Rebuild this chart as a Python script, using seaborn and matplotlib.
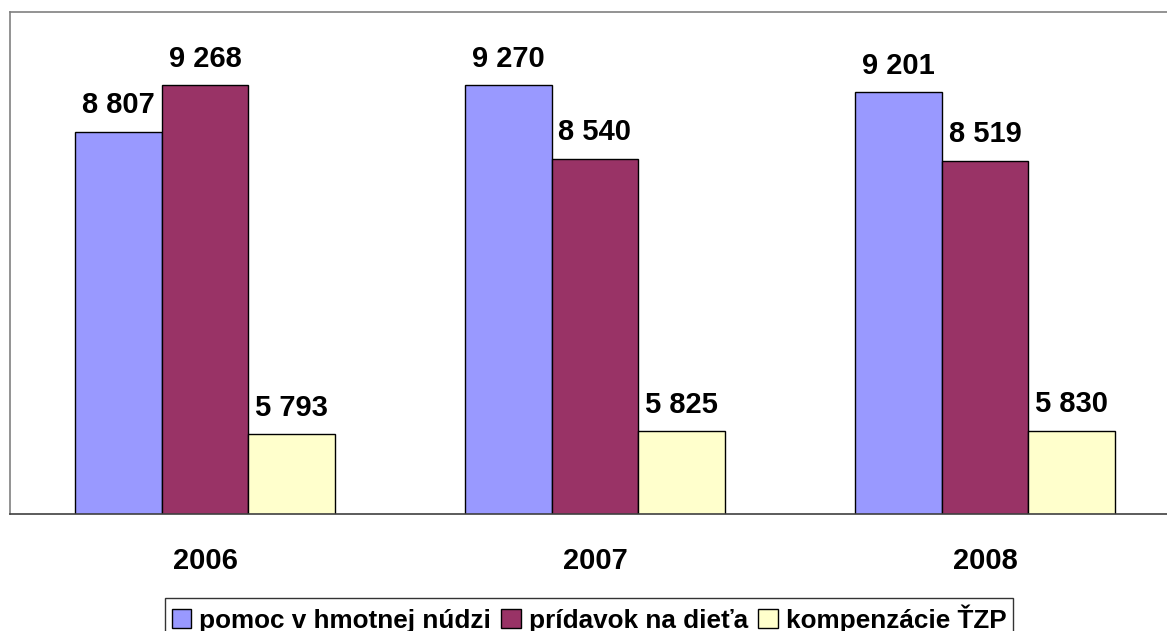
import matplotlib
matplotlib.use('Agg')
import matplotlib.pyplot as plt
import pandas as pd
import seaborn as sns

# Data
years = ['2006', '2007', '2008']
series = ['pomoc v hmotnej núdzi', 'prídavok na dieťa', 'kompenzácie ŤZP']
hmotna_nudza = [8807, 9270, 9201]
pridavok = [9268, 8540, 8519]
kompenzacie = [5793, 5825, 5830]
colors = ['#9999FF', '#993366', '#FFFFCC']

df = pd.DataFrame({
    'year': years * 3,
    'series': [series[0]] * 3 + [series[1]] * 3 + [series[2]] * 3,
    'value': hmotna_nudza + pridavok + kompenzacie,
})

sns.set_style('white')
plt.rcParams['font.family'] = ['Liberation Sans', 'DejaVu Sans']
plt.rcParams['font.weight'] = 'bold'
plt.rcParams['text.color'] = 'black'
plt.rcParams['xtick.color'] = 'black'

W, H = 1167, 631
fig = plt.figure(figsize=(W / 100, H / 100), dpi=100)
ax = fig.add_axes([10 / W, (H - 514) / H, 1170 / W, 502 / H])

sns.barplot(data=df, x='year', y='value', hue='series', order=years,
            hue_order=series, palette=colors, width=0.667,
            edgecolor='black', linewidth=1, saturation=1, ax=ax, legend=True)

ax.set_ylim(5000, 10000)
ax.set_xlim(-0.5, 2.5)
ax.set(xlabel='', ylabel='')
ax.set_yticks([])
ax.tick_params(axis='x', length=0, pad=24, labelsize=21, labelcolor='black')
for lab in ax.get_xticklabels():
    lab.set_fontweight('bold')

for sp in ['left', 'top', 'bottom']:
    ax.spines[sp].set_color('#808080')
    ax.spines[sp].set_linewidth(1.2)
ax.spines['bottom'].set_color('#404040')
ax.spines['right'].set_visible(False)

# Value labels with space as thousands separator
for cont, vals in zip(ax.containers, [hmotna_nudza, pridavok, kompenzacie]):
    labels = ['{:,}'.format(v).replace(',', ' ') for v in vals]
    ax.bar_label(cont, labels=labels, padding=9, fontsize=21, fontweight='bold',
                 color='black')

# Legend
ax.get_legend().remove()
handles = [plt.Rectangle((0, 0), 1, 1, facecolor=c, edgecolor='black', linewidth=1)
           for c in colors]
leg = fig.legend(handles, series, loc='upper left',
                 bbox_to_anchor=(165 / W, 1 - 598 / H), ncol=3,
                 prop={'size': 18.8, 'weight': 'bold'}, frameon=True,
                 fancybox=False, handlelength=0.75, handleheight=0.75,
                 handletextpad=0.3, columnspacing=0.4, borderpad=0.25,
                 borderaxespad=0)
leg.get_frame().set_edgecolor('black')
leg.get_frame().set_linewidth(1)
for t in leg.get_texts():
    t.set_color('black')

fig.savefig('out.png', dpi=100)
